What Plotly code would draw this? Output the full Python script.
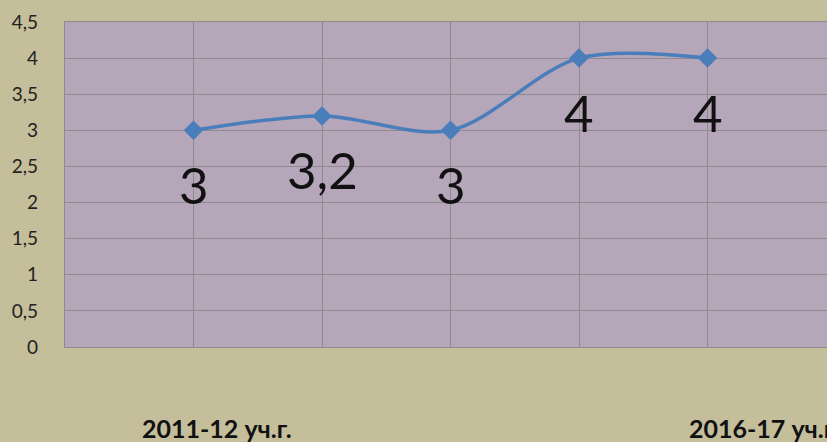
import plotly.graph_objects as go

# data
x_pos = [1, 2, 3, 4, 5]
values = [3, 3.2, 3, 4, 4]
value_labels = ["3", "3,2", "3", "4", "4"]
y_ticks = [0, 0.5, 1, 1.5, 2, 2.5, 3, 3.5, 4, 4.5]
y_tick_labels = ["0", "0,5", "1", "1,5", "2", "2,5", "3", "3,5", "4", "4,5"]
bottom_labels = ["2011-12 уч.г.", "2016-17 уч.г."]
bottom_label_x = [0.584, 4.84]

W, H = 827, 442
left, top, bottom = 65, 22, 95
px_per_cat = 128.5
x_max = (W - left) / px_per_cat

fig = go.Figure()
fig.add_trace(go.Scatter(
    x=x_pos, y=values, mode="lines+markers",
    line=dict(color="#4A7EBB", width=3.5, shape="spline", smoothing=0.9),
    marker=dict(symbol="diamond", size=15, color="#4A7EBB"),
    hoverinfo="skip", showlegend=False,
))

for xv, yv, t in zip(x_pos, values, value_labels):
    fig.add_annotation(x=xv, y=yv, text=t, showarrow=False, yshift=-54,
                       xanchor="center", yanchor="middle",
                       font=dict(family="Lato, Carlito, sans-serif", size=51, color="#111111"))

for t, xv in zip(bottom_labels, bottom_label_x):
    fig.add_annotation(x=xv, xref="x", y=-0.25, yref="paper", text="<b>" + t + "</b>",
                       showarrow=False, xanchor="left", yanchor="middle",
                       font=dict(family="Lato, Carlito, sans-serif", size=25, color="#111111"))

fig.update_layout(
    width=W, height=H,
    margin=dict(l=left, r=0, t=top, b=bottom, pad=0),
    paper_bgcolor="#C5BE9B",
    plot_bgcolor="#B5A6B9",
    xaxis=dict(range=[0, x_max], dtick=1, tick0=0, showticklabels=False,
               showgrid=True, gridcolor="#8E8A8E", gridwidth=1.3,
               showline=True, linecolor="#8E8A8E", linewidth=1.3, mirror=True,
               zeroline=False, ticks=""),
    yaxis=dict(range=[0, 4.5], tickvals=y_ticks, ticktext=y_tick_labels,
               showgrid=True, gridcolor="#8E8A8E", gridwidth=1.3,
               showline=True, linecolor="#8E8A8E", linewidth=1.3, mirror=True,
               zeroline=False, ticks="", ticklabelstandoff=22,
               tickfont=dict(family="Lato, Carlito, sans-serif", size=19, color="#222222")),
)

fig.write_html("out.html", config={"displayModeBar": False},
               post_script="document.body.style.margin='0px';document.body.style.overflow='hidden';document.body.style.background='#C5BE9B';")
